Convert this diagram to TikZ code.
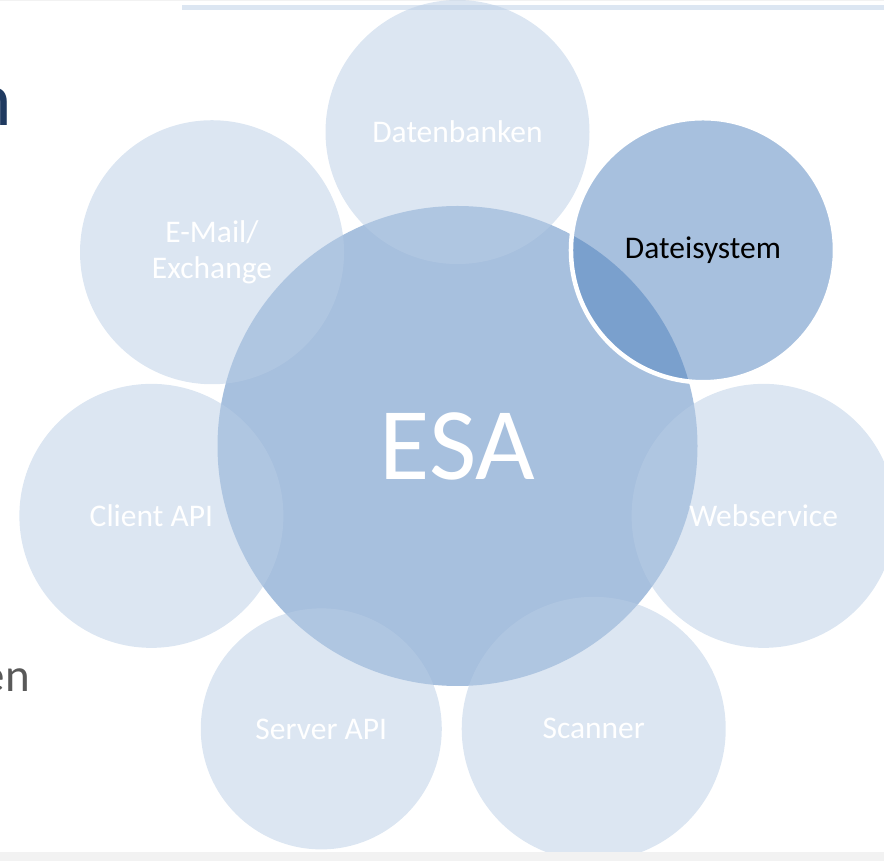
\documentclass[tikz,border=0pt]{standalone}
\usepackage{fontspec}
\setmainfont{Carlito}
\usetikzlibrary{calc}
\definecolor{accent}{HTML}{4F81BD}
\definecolor{lightacc}{HTML}{B9CDE5}
\definecolor{barblue}{HTML}{DCE6F2}
\definecolor{stripgray}{HTML}{F2F2F2}
\definecolor{titlenavy}{HTML}{1F3A60}
\definecolor{bodygray}{HTML}{595959}
\tikzset{
  hub/.style={circle, inner sep=0pt, minimum size=480pt, fill=accent, fill opacity=0.5,
              text opacity=1, text=white, font=\fontsize{103}{110}\selectfont},
  spoke/.style={circle, inner sep=0pt, minimum size=264pt, fill=lightacc, fill opacity=0.5,
              text opacity=1, text=white, align=center, font=\fontsize{31.5}{36}\selectfont},
  chosen/.style={circle, inner sep=0pt, minimum size=264pt, fill=accent, fill opacity=0.5,
              draw=white, draw opacity=1, line width=4.5pt,
              text opacity=1, text=black, font=\fontsize{31.5}{36}\selectfont},
}
\begin{document}
\begin{tikzpicture}[x=1pt,y=1pt]
\useasboundingbox (0,0) rectangle (884,860);
% header decorations
\fill[stripgray] (0,859) rectangle (884,860);
\fill[barblue] (182,849.7) rectangle (884,855.3);
% fragments of slide text
\node[anchor=base east, inner sep=0pt, text=titlenavy, font=\fontsize{77}{80}\selectfont] (title) at (12.5,734) {n};
\node[anchor=base east, inner sep=0pt, text=bodygray, font=\fontsize{47}{50}\selectfont] (body) at (30,168) {en};
% central circle
\coordinate (c) at (457.5,414);
\node[hub] (esa) at (c) {ESA};
% outer circles
\node[spoke] (db)  at ($(c)+(90:314)$) {Datenbanken};
\node[spoke] (web) at ($(c)+(-12.857:314)$) {Webservice};
\node[spoke] (scan) at ($(c)+(-64.286:314)$) {Scanner};
\node[spoke, minimum size=241pt] (srv) at ($(c)+(-115.714:314)$) {Server API};
\node[spoke] (cli) at ($(c)+(-167.143:314)$) {Client API};
\node[spoke] (mail) at ($(c)+(141.429:314)+(0,-2)$) {E-Mail/\\Exchange};
\node[chosen] (fs) at ($(c)+(38.571:314)$) {Dateisystem};
% footer strip
\fill[stripgray] (-5,-5) rectangle (889,8);
\end{tikzpicture}
\end{document}
